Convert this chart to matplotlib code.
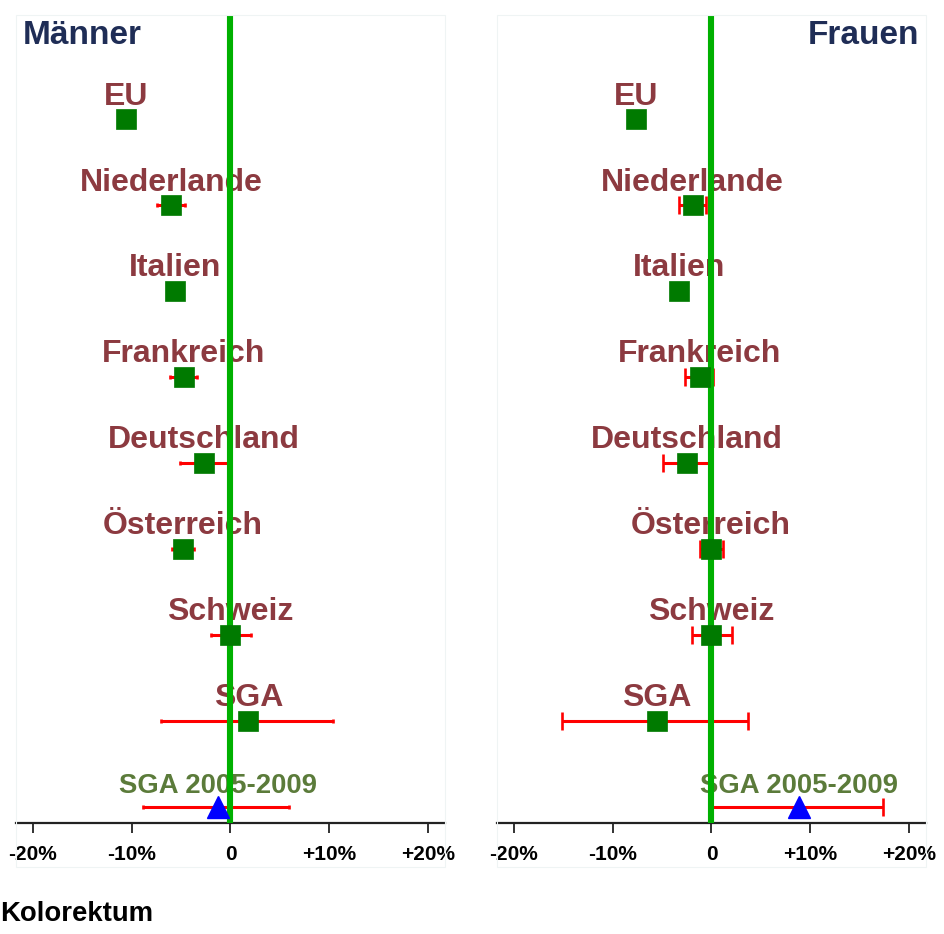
import matplotlib
matplotlib.use("Agg")
import matplotlib.pyplot as plt
from matplotlib.patches import Rectangle

plt.rcParams['font.family'] = ['Liberation Sans', 'DejaVu Sans']

# Rows from top to bottom
countries = ["EU", "Niederlande", "Italien", "Frankreich", "Deutschland",
             "Österreich", "Schweiz", "SGA"]
trend_label = "SGA 2005-2009"

# Männer: estimated annual change (%) with lower / upper bounds
men_val = [-10.6, -6.0, -5.6, -4.75, -2.7, -4.85, 0.0, 1.8]
men_lo = [None, -7.4, None, -6.15, -5.15, -5.95, -2.0, -7.05]
men_hi = [None, -4.6, None, -3.35, -0.2, -3.7, 2.1, 10.4]
men_trend = -1.3
men_trend_lo = -8.85
men_trend_hi = 5.95

# Frauen
women_val = [-7.65, -1.9, -3.25, -1.2, -2.5, -0.05, 0.0, -5.55]
women_lo = [None, -3.25, None, -2.65, -4.9, -1.2, -2.0, -15.1]
women_hi = [None, -0.6, None, 0.15, 0.0, 1.15, 2.1, 3.65]
women_trend = 8.9
women_trend_lo = 0.0
women_trend_hi = 17.35

tick_vals = [-20, -10, 0, 10, 20]
tick_labels = ["-20%", "-10%", "0", "+10%", "+20%"]

W, H = 945, 934
fig = plt.figure(figsize=(W / 100, H / 100), dpi=100)

label_col = "#8C3A40"
trend_col = "#5B7B3A"
title_col = "#1F2D56"
marker_col = "#007A00"
zero_col = "#00B000"


def draw_panel(ax, vals, lo, hi, tval, tlo, thi, capsize):
    n = len(vals)
    ys = list(range(n + 1, 1, -1))  # 9 .. 2
    for y, v, l, h, name in zip(ys, vals, lo, hi, countries):
        if l is not None:
            ax.errorbar([v], [y], xerr=[[v - l], [h - v]], fmt='none',
                        ecolor='#FF0000', elinewidth=2.2, capsize=capsize,
                        capthick=1.9, zorder=2)
        ax.plot([v], [y], marker='s', ms=14.4, color=marker_col,
                mec=marker_col, mew=0.5, ls='none', zorder=4)
        ax.annotate(name, (v, y), xytext=(0, 10.4), textcoords='offset points',
                    ha='center', va='baseline', fontsize=23,
                    fontweight='bold', color=label_col, zorder=1)
    yt = 1
    ax.errorbar([tval], [yt], xerr=[[tval - tlo], [thi - tval]], fmt='none',
                ecolor='#FF0000', elinewidth=2.2, capsize=capsize,
                capthick=1.9, zorder=2)
    ax.plot([tval], [yt], marker='^', ms=15.5, color='#0000FF',
            ls='none', zorder=4)
    ax.annotate(trend_label, (tval, yt), xytext=(0, 9.9),
                textcoords='offset points', ha='center', va='baseline',
                fontsize=19.8, fontweight='bold', color=trend_col, zorder=1)

    ax.axvline(0, color=zero_col, lw=4.4, zorder=3)
    ax.set_xlim(-21.7, 21.7)
    ax.set_ylim(0.81, 10.21)
    ax.set_yticks([])
    for s in ("left", "right", "top"):
        ax.spines[s].set_visible(False)
    ax.spines["bottom"].set_linewidth(1.6)
    ax.spines["bottom"].set_color("#222222")
    ax.set_xticks(tick_vals)
    ax.set_xticklabels(tick_labels, fontsize=15, fontweight='bold')
    ax.tick_params(axis='x', direction='out', length=7.2, width=1.3,
                   color="#222222", pad=9)
    ax.patch.set_alpha(0)


ax_bottom = (H - 823) / H
ax_height = (823 - 15) / H
ax_l = fig.add_axes([16 / W, ax_bottom, 429 / W, ax_height])
ax_r = fig.add_axes([497 / W, ax_bottom, 429 / W, ax_height])

draw_panel(ax_l, men_val, men_lo, men_hi, men_trend, men_trend_lo,
           men_trend_hi, capsize=1.5)
draw_panel(ax_r, women_val, women_lo, women_hi, women_trend, women_trend_lo,
           women_trend_hi, capsize=6.5)

# faint panel frames
for x0 in (16, 497):
    fig.patches.append(Rectangle((x0 / W, (H - 867) / H), 429 / W,
                                 (867 - 15) / H, transform=fig.transFigure,
                                 fill=False, ec="#EFF4F4", lw=0.8, zorder=0))

fig.text(23 / W, 1 - 44 / H, "Männer", ha='left', va='baseline',
         fontsize=24, fontweight='bold', color=title_col)
fig.text(919 / W, 1 - 44 / H, "Frauen", ha='right', va='baseline',
         fontsize=24, fontweight='bold', color=title_col)
fig.text(0 / W, 1 - 921 / H, "Kolorektum", ha='left', va='baseline',
         fontsize=19.8, fontweight='bold', color='black')

fig.savefig("out.png", dpi=100, facecolor='white')
